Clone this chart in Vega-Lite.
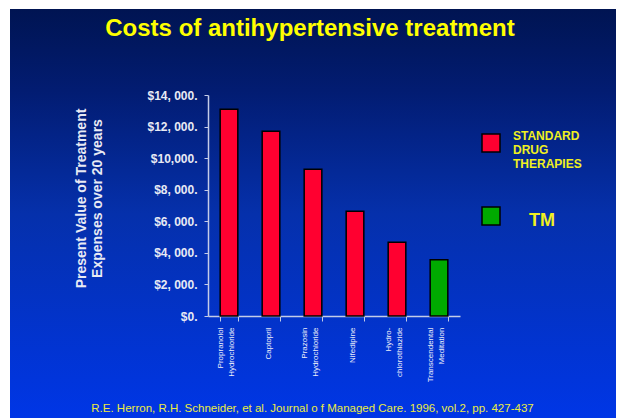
{
  "$schema": "https://vega.github.io/schema/vega-lite/v6.json",
  "width": 606,
  "height": 409,
  "autosize": {"type": "none"},
  "padding": {"left": 10, "top": 9, "right": 2, "bottom": 0},
  "background": "white",
  "view": {
    "stroke": null,
    "fill": {
      "gradient": "linear",
      "x1": 0, "y1": 0, "x2": 0, "y2": 1,
      "stops": [
        {"offset": 0, "color": "#001452"},
        {"offset": 0.2, "color": "#021c72"},
        {"offset": 0.5, "color": "#0530ab"},
        {"offset": 1, "color": "#0036e6"}
      ]
    }
  },
  "title": {
    "text": "Costs of antihypertensive treatment",
    "color": "#ffff00",
    "font": "Liberation Sans",
    "fontSize": 24,
    "fontWeight": "bold",
    "anchor": "middle",
    "offset": -51,
    "baseline": "alphabetic",
    "dx": -3
  },
  "data": {
    "values": [
      {"drug": "Propranolol Hydrochloride", "cost": 13100, "group": "STANDARD DRUG THERAPIES"},
      {"drug": "Captopril", "cost": 11700, "group": "STANDARD DRUG THERAPIES"},
      {"drug": "Prazosin Hydrochloride", "cost": 9300, "group": "STANDARD DRUG THERAPIES"},
      {"drug": "Nifedipine", "cost": 6630, "group": "STANDARD DRUG THERAPIES"},
      {"drug": "Hydro-chlorothiazide", "cost": 4670, "group": "STANDARD DRUG THERAPIES"},
      {"drug": "Transcendental Meditation", "cost": 3570, "group": "TM"}
    ]
  },
  "mark": {"type": "bar", "stroke": "#000000", "strokeWidth": 1.5},
  "encoding": {
    "x": {
      "field": "drug",
      "type": "nominal",
      "sort": null,
      "scale": {"range": [198, 450], "paddingInner": 0.58, "paddingOuter": 0.29},
      "axis": {
        "orient": "bottom",
        "offset": -102,
        "tickBand": "extent",
        "domainColor": "#c4cce8",
        "domainWidth": 1.5,
        "tickColor": "#c4cce8",
        "tickSize": 5,
        "tickWidth": 1,
        "labelAngle": 270,
        "labelAlign": "right",
        "labelBaseline": "middle",
        "labelPadding": 6,
        "labelFont": "Liberation Sans",
        "labelFontSize": 8,
        "labelLineHeight": 11,
        "labelColor": "#eef0fa",
        "labelOffset": {"expr": "datum.value == 'Captopril' || datum.value == 'Nifedipine' ? -3 : -9"},
        "labelExpr": "datum.label == 'Hydro-chlorothiazide' ? ['Hydro-', 'chlorothiazide'] : split(datum.label, ' ')",
        "title": "R.E.  Herron, R.H.  Schneider, et al.  Journal o f Managed Care.  1996, vol.2, pp. 427-437",
        "titleColor": "#ecec40",
        "titleFont": "Liberation Sans",
        "titleFontSize": 11.5,
        "titleFontWeight": "normal",
        "titleAnchor": "start",
        "titleAlign": "center",
        "titleBaseline": "middle",
        "titleX": 302,
        "titleY": 92
      }
    },
    "y": {
      "field": "cost",
      "type": "quantitative",
      "scale": {"domain": [0, 14000], "range": [307, 86], "nice": false, "zero": true},
      "axis": {
        "orient": "left",
        "offset": -198,
        "values": [0, 2000, 4000, 6000, 8000, 10000, 12000, 14000],
        "grid": false,
        "domainColor": "#c4cce8",
        "domainWidth": 1.5,
        "tickColor": "#c4cce8",
        "tickSize": 4,
        "labelPadding": 7,
        "labelFont": "Liberation Sans",
        "labelFontSize": 12,
        "labelFontWeight": "bold",
        "labelColor": "#e8eaf4",
        "labelExpr": "datum.value == 0 ? '$0.' : datum.value == 10000 ? '$10,000.' : '$' + floor(datum.value / 1000) + ', 000.'",
        "title": ["Present Value of Treatment", "Expenses over 20  years"],
        "titleColor": "#e8eaf4",
        "titleFont": "Liberation Sans",
        "titleFontSize": 14,
        "titleFontWeight": "bold",
        "titleLineHeight": 15.5,
        "titleAngle": 270,
        "titleAlign": "center",
        "titleBaseline": "middle",
        "titleAnchor": "start",
        "titleX": -126.5,
        "titleY": 189
      }
    },
    "color": {
      "field": "group",
      "type": "nominal",
      "scale": {"domain": ["STANDARD DRUG THERAPIES", "TM"], "range": ["#ff0030", "#00aa00"]},
      "legend": {
        "title": null,
        "orient": "none",
        "legendX": 471,
        "legendY": 124,
        "padding": 0,
        "symbolType": "square",
        "symbolSize": 324,
        "symbolStrokeColor": "#000000",
        "symbolStrokeWidth": 1.5,
        "symbolOpacity": 1,
        "labelFont": "Liberation Sans",
        "labelFontSize": 12,
        "labelFontWeight": "bold",
        "labelColor": "#f0f020",
        "labelLineHeight": 14,
        "labelOffset": 12,
        "labelLimit": 200,
        "rowPadding": 34,
        "labelExpr": "datum.label == 'TM' ? 'TM' : ['STANDARD', 'DRUG', 'THERAPIES']",
        "encode": {
          "labels": {
            "update": {
              "fontSize": {"signal": "datum.label == 'TM' ? 18 : 12"},
              "dx": {"signal": "datum.label == 'TM' ? 16 : 0"},
              "dy": {"signal": "datum.label == 'TM' ? 5 : -7"}
            }
          }
        }
      }
    }
  }
}
